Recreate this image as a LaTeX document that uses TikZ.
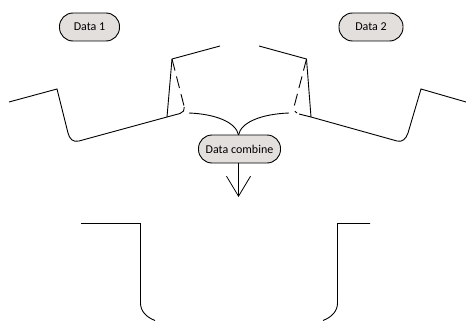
\documentclass[tikz,border=0pt]{standalone}
\usepackage{fontspec}
\setmainfont{Carlito}
\usetikzlibrary{arrows.meta}

\begin{document}
\begin{tikzpicture}[
        x=1pt,
        y=-1pt,
        data/.style={
            rectangle,
            draw,
            line width=0.9pt,
            rounded corners=13.5pt,
            fill=boxfill,
            minimum height=28pt,
            inner sep=0pt,
            font=\fontsize{12}{14}\selectfont,
        },
        wall/.style={
            line width=0.9pt,
        },
        joint/.style={
            wall,
            dash pattern=on 12pt off 6pt,
        },
        flow/.style={
            wall,
            -{Straight Barb[length=20pt,width=24pt,line width=0.8pt]},
        },
    ]
    \definecolor{boxfill}{HTML}{E3DFDC}
    \useasboundingbox (0,0) rectangle (466,321);

    \node (D1) at (89.5,27) [data,minimum width=60pt] {Data 1};
    \node (D2) at (371,27) [data,minimum width=64pt] {Data 2};
    \node (DC) at (239.5,149) [data,minimum width=82pt] {Data combine};

    \coordinate (L) at (189,113);
    \coordinate (R) at (289,113);
    \coordinate (M) at (238.5,135);
    \coordinate (T) at (238.5,197);

    \draw [wall] (L) .. controls (215,114) and (236,122) .. (M);
    \draw [wall] (R) .. controls (262,114) and (241,122) .. (M);
    \draw [flow] (DC.south -| T) -- (T);

    \draw [wall] (9,102) -- (57,89) -- (68,133) .. controls (69.5,139) and (73,142.5) .. (79,141) -- (167,117);
    \draw [wall] (167,117) -- (180,113.5) .. controls (183,112.5) and (185,110) .. (184.3,107);
    \draw [joint] (172,59) -- (184.3,107);
    \draw [wall] (220,46) -- (172,59) -- (167,117);

    \draw [wall] (466,102) -- (421,89) -- (408,133) .. controls (406,139) and (402,142.5) .. (397,141) -- (311,117);
    \draw [wall] (311,117) -- (299,114);
    \draw [joint] (306.5,59) -- (294.5,105) .. controls (293,109) and (294,111) .. (297,113);
    \draw [wall] (259,46) -- (306.5,59) -- (311,117);

    \draw [wall] (81,223.5) -- (140.5,223.5) -- (140.5,303) .. controls (140.5,311) and (146,317) .. (155,320.5);
    \draw [wall] (370,223.5) -- (337.5,223.5) -- (337.5,303) .. controls (337.5,311) and (332,317) .. (323,320.5);
\end{tikzpicture}
\end{document}
